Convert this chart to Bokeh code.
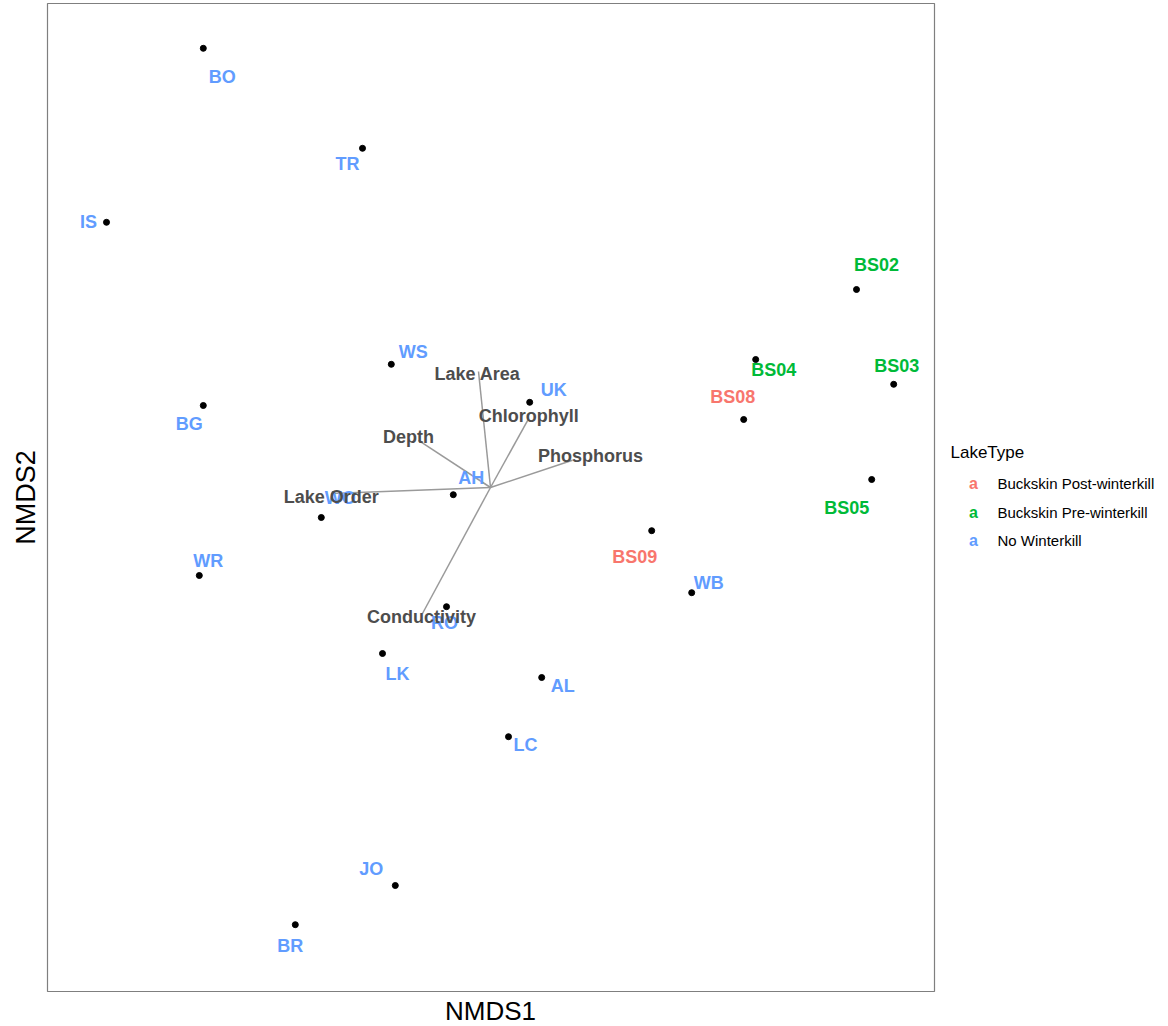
import math
from bokeh.plotting import figure
from bokeh.models import ColumnDataSource, Range1d
from bokeh.core.properties import value
from bokeh.embed import file_html
from bokeh.resources import INLINE

# ---- data (NMDS site scores) ----
sites = ["BO", "TR", "IS", "BS02", "WS", "BS04", "BS03", "UK", "BG", "BS08", "BS05",
         "AH", "WO", "BS09", "WR", "WB", "RO", "LK", "AL", "LC", "JO", "BR"]
nmds1 = [-0.718, -0.320, -0.960, 0.915, -0.248, 0.663, 1.008, 0.098, -0.718, 0.633, 0.953,
         -0.093, -0.423, 0.403, -0.728, 0.503, -0.110, -0.270, 0.128, 0.045, -0.238, -0.488]
nmds2 = [1.098, 0.848, 0.663, 0.495, 0.308, 0.320, 0.258, 0.213, 0.205, 0.170, 0.020,
         -0.018, -0.075, -0.108, -0.220, -0.263, -0.298, -0.415, -0.475, -0.623, -0.995, -1.093]
lake_type = ["No Winterkill", "No Winterkill", "No Winterkill", "Buckskin Pre-winterkill",
             "No Winterkill", "Buckskin Pre-winterkill", "Buckskin Pre-winterkill", "No Winterkill",
             "No Winterkill", "Buckskin Post-winterkill", "Buckskin Pre-winterkill",
             "No Winterkill", "No Winterkill", "Buckskin Post-winterkill", "No Winterkill",
             "No Winterkill", "No Winterkill", "No Winterkill", "No Winterkill", "No Winterkill",
             "No Winterkill", "No Winterkill"]

# environmental vectors (fitted arrows)
env_vars = ["Lake Area", "Chlorophyll", "Depth", "Phosphorus", "Lake Order", "Conductivity"]
env_x = [-0.030, 0.093, -0.180, 0.205, -0.398, -0.170]
env_y = [0.290, 0.168, 0.118, 0.068, -0.015, -0.315]

type_names = ["Buckskin Post-winterkill", "Buckskin Pre-winterkill", "No Winterkill"]
type_colors = ["#F8766D", "#00BA38", "#619CFF"]

x_title = "NMDS1"
y_title = "NMDS2"
legend_title = "LakeType"

# ---- layout (pixel offsets of repelled labels; not data) ----
lab_dx = [19, -15, -18, 20, 22, 18, 3, 24, -14, -11, -25, 18, 19, -17, 9, 17, -2, 15, 21, 17, -24, -5]
lab_dy = [29, 16, 0, -25, -12, 10, -18, -12, 18, -23, 28, -17, -20, 26, -15, -10, 16, 20, 8, 8, -17, 21]
env_dx = [-1, 1, -10, 18, 0, -1]
env_dy = [2, -4, -3, -4, 3, 3]

W, H = 1168, 1026
SCALE = 400.0
def px2x(px):
    return (px - 490) / SCALE
def py2y(py):
    return (487 - py) / SCALE

cmap = dict(zip(type_names, type_colors))
FONT = "Liberation Sans"

p = figure(width=W, height=H, output_backend="svg", toolbar_location=None,
           x_range=Range1d(px2x(0), px2x(W)), y_range=Range1d(py2y(H), py2y(0)),
           min_border_left=0, min_border_right=0, min_border_top=0, min_border_bottom=0)
p.axis.visible = False
p.grid.visible = False
p.outline_line_color = None
p.background_fill_color = "white"
p.border_fill_color = "white"

# panel border
p.quad(left=[px2x(47)], right=[px2x(934)], top=[py2y(3)], bottom=[py2y(991)],
       fill_color=None, line_color="#7F7F7F", line_width=1.2)

# vectors
vsrc = ColumnDataSource(dict(x0=[0.0] * len(env_x), y0=[0.0] * len(env_y), x1=env_x, y1=env_y,
                             name=env_vars, dx=env_dx, dy=env_dy))
p.segment(x0="x0", y0="y0", x1="x1", y1="y1", source=vsrc, line_color="#9A9A9A", line_width=1.5)

# points
src = ColumnDataSource(dict(x=nmds1, y=nmds2, site=sites, color=[cmap[t] for t in lake_type],
                            dx=lab_dx, dy=lab_dy))
p.scatter(x="x", y="y", source=src, size=6, color="black")

# site labels
p.text(x="x", y="y", text="site", source=src, x_offset="dx", y_offset="dy",
       text_color="color", text_font=value(FONT), text_font_style="bold",
       text_font_size="18px", text_align="center", text_baseline="middle")

# vector labels
p.text(x="x1", y="y1", text="name", source=vsrc, x_offset="dx", y_offset="dy",
       text_color="#4D4D4D", text_font=value(FONT), text_font_style="bold",
       text_font_size="18px", text_align="center", text_baseline="middle")

# axis titles
p.text(x=[px2x(490)], y=[py2y(1010)], text=[x_title], text_font=value(FONT),
       text_font_size="26px", text_align="center", text_baseline="middle", text_color="black")
p.text(x=[px2x(25)], y=[py2y(497)], text=[y_title], text_font=value(FONT),
       text_font_size="27px", text_align="center", text_baseline="middle", text_color="black",
       angle=math.pi / 2)

# legend
p.text(x=[px2x(950)], y=[py2y(452)], text=[legend_title], text_font=value(FONT),
       text_font_size="17px", text_align="left", text_baseline="middle", text_color="black")
leg_y = [py2y(483 + i * 28.5) for i in range(len(type_names))]
p.text(x=[px2x(973)] * len(type_names), y=leg_y, text=["a"] * len(type_names),
       text_color=type_colors, text_font=value(FONT), text_font_size="16px",
       text_font_style="bold", text_align="center", text_baseline="middle")
p.text(x=[px2x(997)] * len(type_names), y=leg_y, text=type_names, text_font=value(FONT),
       text_font_size="15px", text_align="left", text_baseline="middle", text_color="black")

open("out.html", "w").write(file_html(p, INLINE))
